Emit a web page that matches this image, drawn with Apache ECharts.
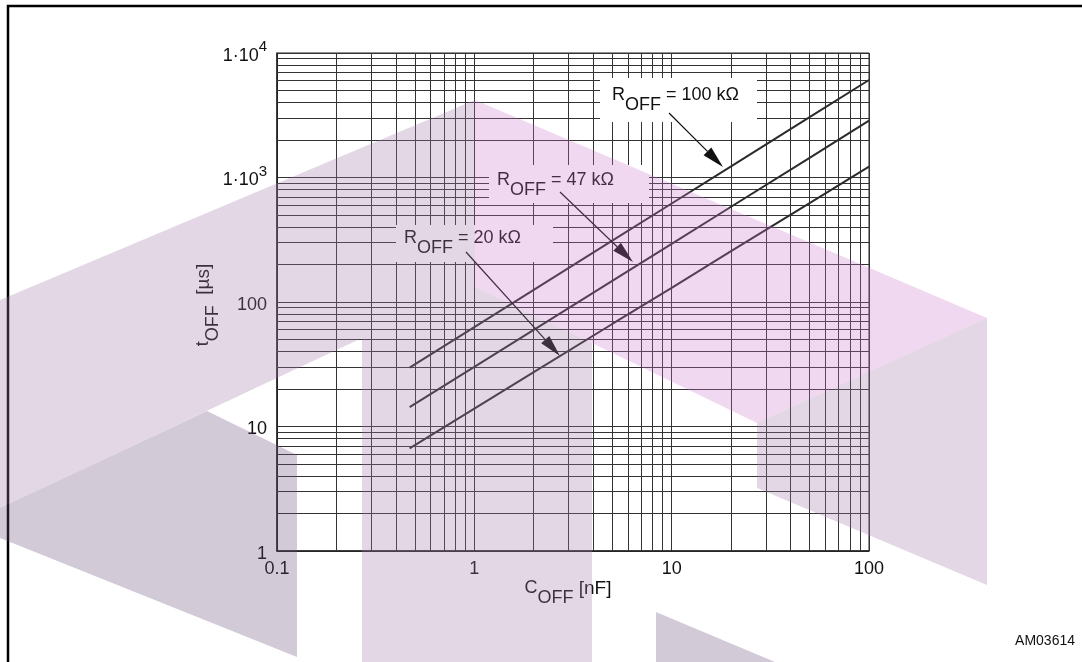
<!DOCTYPE html>
<html>
<head>
<meta charset="utf-8">
<script src="https://cdn.jsdelivr.net/npm/echarts@6/dist/echarts.min.js"></script>
<style>
html,body{margin:0;padding:0;background:#fff;}
#chart{width:1082px;height:662px;}
</style>
</head>
<body>
<div id="chart"></div>
<script>
// ---- data ----
const capacitanceNF = [0.47, 1, 2, 5, 10, 20, 50, 100];
const tOffR100 = [29.7, 62.8, 125, 311, 618, 1230, 3055, 6070];
const tOffR47 = [14.3, 30.1, 59.7, 148, 293, 582, 1440, 2858];
const tOffR20 = [6.68, 13.9, 27.3, 66.6, 130, 256, 623, 1222];
const seriesLabels = ['100 kΩ', '47 kΩ', '20 kΩ'];
const xDecades = [0.1, 1, 10];
const yDecades = [1, 10, 100, 1000];
const minorSteps = [2, 3, 4, 5, 6, 7, 8, 9];
const xTickLabels = ['0.1', '1', '10', '100'];
const yTickLabels = ['1', '10', '100', '1·10|3', '1·10|4'];

const FONT = '"Liberation Sans", Arial, Helvetica, sans-serif';
const LINE = '#2b2b2b';
const GRIDC = '#333333';

const chart = echarts.init(document.getElementById('chart'), null, {renderer: 'canvas'});

const minorMarks = [];
xDecades.forEach(d => minorSteps.forEach(k => minorMarks.push({xAxis: +(d * k).toPrecision(6)})));
yDecades.forEach(d => minorSteps.forEach(k => minorMarks.push({yAxis: +(d * k).toPrecision(6)})));

function pairs(ys) { return capacitanceNF.map((c, i) => [c, ys[i]]); }

function xLabel(v) {
  const idx = [0.1, 1, 10, 100].findIndex(t => Math.abs(Math.log10(v) - Math.log10(t)) < 1e-6);
  return idx >= 0 ? xTickLabels[idx] : '';
}
function yLabel(v) {
  const idx = [1, 10, 100, 1000, 10000].findIndex(t => Math.abs(Math.log10(v) - Math.log10(t)) < 1e-6);
  if (idx < 0) return '';
  const s = yTickLabels[idx];
  if (s.indexOf('|') >= 0) {
    const p = s.split('|');
    return '{m|' + p[0] + '}{s|' + p[1] + '}';
  }
  return '{m|' + s + '}';
}

// annotation layout (pixels)
const boxes = [
  {x: 600, y: 78, w: 157, h: 44, tx: 612, ty: 86, label: seriesLabels[0]},
  {x: 489, y: 165, w: 160, h: 38, tx: 497, ty: 171, label: seriesLabels[1]},
  {x: 396, y: 225, w: 157, h: 37, tx: 404, ty: 229, label: seriesLabels[2]}
];
const arrows = [
  {from: [669, 113], to: [723, 167]},
  {from: [560, 192], to: [633, 262]},
  {from: [466, 252], to: [560, 356]}
];

const graphics = [];
boxes.forEach(b => {
  graphics.push({type: 'rect', silent: true, z: 10, shape: {x: b.x, y: b.y, width: b.w, height: b.h}, style: {fill: '#ffffff'}});
  graphics.push({
    type: 'text', silent: true, z: 11, x: b.tx, y: b.ty,
    style: {
      text: '{r|R}{s|OFF}{r| = ' + b.label + '}',
      fill: '#111', font: '18px ' + FONT,
      rich: {
        r: {fontSize: 18, fontFamily: FONT, fill: '#111', padding: [0, 0, 10, 0]},
        s: {fontSize: 18, fontFamily: FONT, fill: '#111', padding: [10, 0, 0, 0]}
      }
    }
  });
});
arrows.forEach(a => {
  const dx = a.to[0] - a.from[0], dy = a.to[1] - a.from[1];
  const len = Math.hypot(dx, dy);
  const ux = dx / len, uy = dy / len;
  const hl = 22, hw = 5.5;
  const bx = a.to[0] - ux * hl, by = a.to[1] - uy * hl;
  graphics.push({type: 'line', silent: true, z: 11, shape: {x1: a.from[0], y1: a.from[1], x2: bx, y2: by}, style: {stroke: '#111', lineWidth: 1.2}});
  graphics.push({type: 'polygon', silent: true, z: 11, shape: {points: [[a.to[0], a.to[1]], [bx - uy * hw, by + ux * hw], [bx + uy * hw, by - ux * hw]]}, style: {fill: '#111'}});
});

// axis titles
graphics.push({
  type: 'text', silent: true, z: 11, x: 568, y: 593,
  style: {
    text: '{m|C}{s|OFF}{u| [nF]}', align: 'center', verticalAlign: 'middle',
    rich: {
      m: {fontSize: 18, fontFamily: FONT, fill: '#111', padding: [0, 0, 10, 0]},
      s: {fontSize: 18, fontFamily: FONT, fill: '#111', padding: [10, 0, 0, 0]},
      u: {fontSize: 19, fontFamily: FONT, fill: '#111', padding: [0, 0, 8, 0]}
    }
  }
});
graphics.push({
  type: 'text', silent: true, z: 11, x: 208, y: 305, rotation: Math.PI / 2,
  style: {
    text: '{m|t}{s|OFF}{u|  [µs]}', align: 'center', verticalAlign: 'middle',
    rich: {
      m: {fontSize: 18, fontFamily: FONT, fill: '#111', padding: [0, 0, 10, 0]},
      s: {fontSize: 18, fontFamily: FONT, fill: '#111', padding: [10, 0, 0, 0]},
      u: {fontSize: 19, fontFamily: FONT, fill: '#111', padding: [0, 0, 8, 0]}
    }
  }
});
graphics.push({
  type: 'text', silent: true, z: 11, x: 1075, y: 641,
  style: {text: 'AM03614', align: 'right', verticalAlign: 'middle', font: '14px ' + FONT, fill: '#111'}
});
// frame
graphics.push({type: 'polyline', silent: true, z: 12, shape: {points: [[8, 662], [8, 6], [1082, 6]]}, style: {stroke: '#000', lineWidth: 2.5, fill: null}});

// watermark (translucent overlay)
const wm = [
  {pts: [[0, 300], [475, 100], [475, 287], [592, 343], [592, 662], [362, 662], [362, 338], [0, 508]], fill: 'rgba(162,122,172,0.30)'},
  {pts: [[475, 100], [987, 318], [757, 423], [592, 343], [475, 287]], fill: 'rgba(205,115,205,0.28)'},
  {pts: [[757, 423], [987, 318], [987, 585], [757, 488]], fill: 'rgba(162,122,172,0.30)'},
  {pts: [[0, 508], [207, 411], [297, 455], [297, 657], [0, 538]], fill: 'rgba(108,78,125,0.30)'},
  {pts: [[656, 612], [775, 662], [656, 662]], fill: 'rgba(108,78,125,0.30)'}
];
wm.forEach(w => graphics.push({type: 'polygon', silent: true, z: 100, shape: {points: w.pts}, style: {fill: w.fill}}));

const curveStyle = {color: LINE, width: 2};
const option = {
  animation: false,
  backgroundColor: '#ffffff',
  grid: {left: 277, top: 53, width: 592, height: 498, show: true, borderColor: '#222', borderWidth: 1, containLabel: false},
  xAxis: {
    type: 'log', logBase: 10, min: 0.1, max: 100,
    axisLine: {show: true, onZero: false, lineStyle: {color: '#222', width: 1.5}},
    axisTick: {show: false},
    splitLine: {show: true, lineStyle: {color: GRIDC, width: 1}},
    axisLabel: {show: true, margin: 9, fontSize: 18, fontFamily: FONT, color: '#111', formatter: xLabel, showMinLabel: true, showMaxLabel: true, hideOverlap: false}
  },
  yAxis: {
    type: 'log', logBase: 10, min: 1, max: 10000,
    axisLine: {show: true, onZero: false, lineStyle: {color: '#222', width: 1.5}},
    axisTick: {show: false},
    splitLine: {show: true, lineStyle: {color: GRIDC, width: 1}},
    axisLabel: {
      show: true, margin: 10, formatter: yLabel, showMinLabel: true, showMaxLabel: true, hideOverlap: false,
      rich: {
        m: {fontSize: 18, fontFamily: FONT, color: '#111', padding: [6, 0, 0, 0]},
        s: {fontSize: 15, fontFamily: FONT, color: '#111', padding: [0, 0, 12, 0]}
      }
    }
  },
  series: [
    {
      name: seriesLabels[0], type: 'line', data: pairs(tOffR100), showSymbol: false, silent: true, z: 5,
      lineStyle: curveStyle,
      markLine: {
        silent: true, symbol: ['none', 'none'], animation: false,
        label: {show: false},
        lineStyle: {color: GRIDC, width: 1, type: 'solid'},
        emphasis: {disabled: true},
        data: minorMarks
      }
    },
    {name: seriesLabels[1], type: 'line', data: pairs(tOffR47), showSymbol: false, silent: true, z: 5, lineStyle: curveStyle},
    {name: seriesLabels[2], type: 'line', data: pairs(tOffR20), showSymbol: false, silent: true, z: 5, lineStyle: curveStyle}
  ],
  graphic: {elements: graphics}
};
chart.setOption(option);
</script>
</body>
</html>
